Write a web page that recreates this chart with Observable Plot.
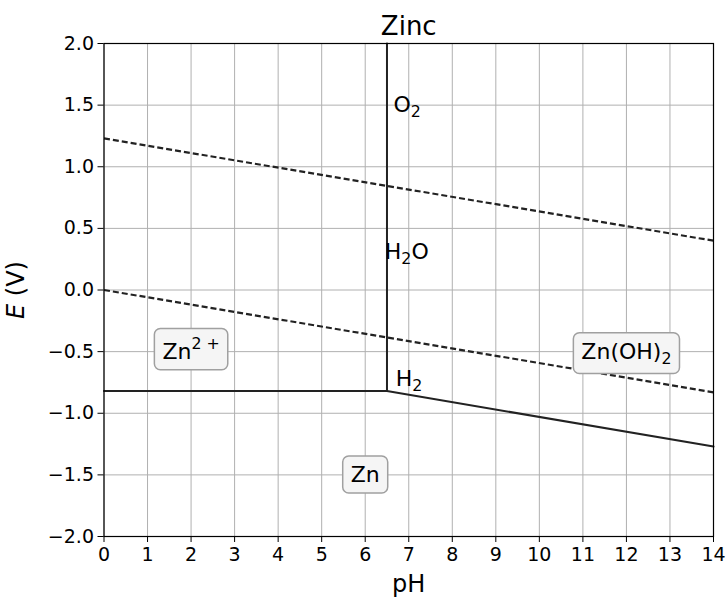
<!DOCTYPE html>
<html>
<head>
<meta charset="utf-8">
<script src="https://cdn.jsdelivr.net/npm/d3@7"></script>
<script src="https://cdn.jsdelivr.net/npm/@observablehq/plot@0.6"></script>
<style>
  html, body { margin: 0; padding: 0; background: #fff; }
  svg { display: block; }
</style>
</head>
<body>
<div id="chart"></div>
<script>
// ---- data ----
const title = "Zinc";
const xTicks = [0,1,2,3,4,5,6,7,8,9,10,11,12,13,14];
const yTicks = [-2.0,-1.5,-1.0,-0.5,0.0,0.5,1.0,1.5,2.0];

// Zn2+ / Zn and Zn(OH)2 / Zn boundary
const boundaryPH = [0, 6.5, 14];
const boundaryE  = [-0.82, -0.82, -1.27];
// Zn2+ / Zn(OH)2 vertical boundary
const verticalPH = [6.5, 6.5];
const verticalE  = [-0.82, 2.0];
// water stability lines
const o2PH = [0, 14];
const o2E  = [1.23, 0.40];
const h2PH = [0, 14];
const h2E  = [0.0, -0.83];

// water labels
const waterLabels = ["O₂", "H₂O", "H₂"];
const waterPH = [6.65, 6.45, 6.7];
const waterE  = [1.5, 0.31, -0.72];

// species region labels
const regionLabels = ["Zn²⁺", "Zn(OH)₂", "Zn"];
const regionPH = [2, 12, 6];
const regionE  = [-0.5, -0.5, -1.5];

// ---- tables built from arrays ----
const boundary = boundaryPH.map((x, i) => ({x, y: boundaryE[i]}));
const vertical = verticalPH.map((x, i) => ({x, y: verticalE[i]}));
const o2 = o2PH.map((x, i) => ({x, y: o2E[i]}));
const h2 = h2PH.map((x, i) => ({x, y: h2E[i]}));
const water = waterLabels.map((t, i) => ({t, x: waterPH[i], y: waterE[i]}));
const regions = regionLabels.map((t, i) => ({t, x: regionPH[i], y: regionE[i]}));

const fmt = d3.format(".1f");
const font = "DejaVu Sans";

const chart = Plot.plot({
  width: 728,
  height: 599,
  marginLeft: 103.5,
  marginRight: 15,
  marginTop: 43,
  marginBottom: 63,
  style: {fontFamily: font, background: "#fff", color: "#000"},
  x: {domain: [0, 14], nice: false},
  y: {domain: [-2, 2], nice: false},
  marks: [
    Plot.gridX(xTicks, {stroke: "#b0b0b0", strokeOpacity: 1, strokeWidth: 1}),
    Plot.gridY(yTicks, {stroke: "#b0b0b0", strokeOpacity: 1, strokeWidth: 1}),
    Plot.axisX(xTicks, {tickSize: 6, tickPadding: 5, fontSize: 19, tickFormat: d => String(d), label: null, stroke: "#000", strokeOpacity: 1}),
    Plot.axisY(yTicks, {tickSize: 6, tickPadding: 4, fontSize: 19, tickFormat: fmt, label: null, stroke: "#000", strokeOpacity: 1}),
    Plot.line(o2, {x: "x", y: "y", stroke: "#222", strokeWidth: 2.2, strokeDasharray: "6,3", strokeLinecap: "butt"}),
    Plot.line(h2, {x: "x", y: "y", stroke: "#222", strokeWidth: 2.2, strokeDasharray: "6,3", strokeLinecap: "butt"}),
    Plot.line(boundary, {x: "x", y: "y", stroke: "#222", strokeWidth: 2}),
    Plot.line(vertical, {x: "x", y: "y", stroke: "#222", strokeWidth: 2}),
    Plot.text(water, {x: "x", y: "y", text: "t", textAnchor: "start", lineAnchor: "middle", fontSize: 22, fill: "#000", className: "chem-label"}),
    Plot.text(regions, {x: "x", y: "y", text: "t", textAnchor: "middle", lineAnchor: "middle", fontSize: 22, fill: "#000", className: "region-label"}),
    Plot.frame({stroke: "#000", strokeWidth: 1.2}),
    Plot.text([title], {frameAnchor: "top", dy: -17, lineAnchor: "middle", fontSize: 26, fill: "#000"}),
    Plot.text(["pH"], {frameAnchor: "bottom", dy: 48, lineAnchor: "middle", fontSize: 24, fill: "#000"}),
    Plot.text(["E (V)"], {frameAnchor: "left", dx: -88, rotate: -90, textAnchor: "middle", lineAnchor: "middle", fontSize: 24, fill: "#000", className: "ylabel"})
  ]
});

document.getElementById("chart").appendChild(chart);

// italic E in y label
d3.select(chart).selectAll(".ylabel text").each(function() {
  const t = d3.select(this);
  t.text("");
  t.append("tspan").attr("font-style", "italic").text("E");
  t.append("tspan").text(" (V)");
});

// proper sub/superscripts
const subMap = {"₂": "2"};
const supMap = {"²": "2", "⁺": "+"};
d3.select(chart).selectAll(".chem-label text, .region-label text").each(function() {
  const s = this.textContent;
  const fs = parseFloat(getComputedStyle(this).fontSize) || 22;
  const t = d3.select(this);
  t.text("");
  let mode = "n", buf = "", shift = 0;
  const flush = () => {
    if (!buf) return;
    const target = mode === "sub" ? 0.22 : mode === "sup" ? -0.42 : 0;
    const span = t.append("tspan").text(buf);
    const dy = target - shift;
    if (dy) span.attr("dy", (dy * fs) + "px");
    if (mode !== "n") span.attr("font-size", (fs * 0.72) + "px");
    shift = target;
    buf = "";
  };
  for (const ch of s) {
    const m = subMap[ch] ? "sub" : supMap[ch] ? "sup" : "n";
    const c = subMap[ch] || supMap[ch] || ch;
    if (m !== mode) { flush(); mode = m; }
    buf += (m === "sup" && c === "+") ? " +" : c;
  }
  flush();
});

// rounded boxes behind region labels
d3.select(chart).selectAll(".region-label text").each(function() {
  const bb = this.getBBox();
  const padX = 8, padY = 6;
  const tr = this.getAttribute("transform");
  const rect = document.createElementNS("http://www.w3.org/2000/svg", "rect");
  rect.setAttribute("x", bb.x - padX);
  rect.setAttribute("y", bb.y - padY);
  rect.setAttribute("width", bb.width + 2 * padX);
  rect.setAttribute("height", bb.height + 2 * padY);
  rect.setAttribute("rx", 6);
  rect.setAttribute("fill", "#f5f5f5");
  rect.setAttribute("stroke", "#a0a0a0");
  rect.setAttribute("stroke-width", 1.5);
  if (tr) rect.setAttribute("transform", tr);
  this.parentNode.insertBefore(rect, this);
});
</script>
</body>
</html>
